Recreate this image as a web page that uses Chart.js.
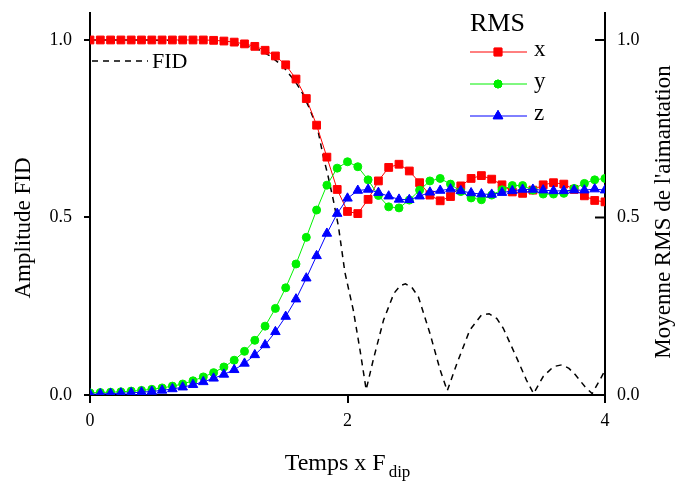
<!DOCTYPE html>
<html><head><meta charset="utf-8">
<script src="https://cdn.jsdelivr.net/npm/chart.js@4.4.1/dist/chart.umd.min.js"></script>
<style>html,body{margin:0;padding:0;background:#fff;}#wrap{width:675px;height:487px;position:relative;}</style>
</head><body><div id="wrap"><canvas id="c" width="675" height="487"></canvas></div>
<script>
const timeSteps = [0,0.08,0.16,0.24,0.32,0.40,0.48,0.56,0.64,0.72,0.80,0.88,0.96,1.04,1.12,1.20,1.28,1.36,1.44,1.52,1.60,1.68,1.76,1.84,1.92,2.00,2.08,2.16,2.24,2.32,2.40,2.48,2.56,2.64,2.72,2.80,2.88,2.96,3.04,3.12,3.20,3.28,3.36,3.44,3.52,3.60,3.68,3.76,3.84,3.92,4.00];
const rmsX = [1.0,1.0,1.0,1.0,1.0,1.0,1.0,1.0,1.0,1.0,1.0,1.0,0.999,0.997,0.994,0.989,0.982,0.971,0.955,0.930,0.890,0.835,0.760,0.670,0.579,0.517,0.511,0.551,0.603,0.641,0.650,0.631,0.598,0.563,0.547,0.559,0.589,0.610,0.618,0.608,0.592,0.572,0.568,0.577,0.592,0.598,0.594,0.579,0.561,0.548,0.544];
const rmsY = [0.006,0.007,0.008,0.009,0.011,0.013,0.016,0.020,0.025,0.031,0.040,0.051,0.063,0.079,0.098,0.123,0.154,0.194,0.244,0.302,0.369,0.444,0.521,0.591,0.639,0.657,0.643,0.606,0.562,0.530,0.527,0.549,0.577,0.603,0.610,0.594,0.573,0.555,0.550,0.563,0.578,0.590,0.590,0.577,0.566,0.566,0.568,0.582,0.596,0.606,0.610];
const rmsZ = [0.002,0.003,0.004,0.005,0.006,0.008,0.010,0.013,0.017,0.022,0.029,0.037,0.047,0.058,0.071,0.089,0.113,0.141,0.178,0.221,0.270,0.329,0.392,0.455,0.511,0.554,0.576,0.579,0.570,0.560,0.551,0.550,0.560,0.571,0.576,0.580,0.575,0.569,0.566,0.565,0.570,0.575,0.579,0.579,0.577,0.575,0.575,0.577,0.577,0.580,0.577];
const fidTime = [0,0.4,0.8,1.0,1.2,1.3,1.4,1.5,1.6,1.65,1.71,1.77,1.81,1.85,1.89,1.93,1.98,2.045,2.097,2.145,2.2,2.28,2.36,2.41,2.45,2.5,2.55,2.64,2.72,2.775,2.85,2.95,3.04,3.1,3.16,3.21,3.31,3.39,3.445,3.52,3.6,3.665,3.72,3.77,3.845,3.9,3.96,4.0];
const fidAmp = [1.0,1.0,0.998,0.995,0.985,0.975,0.955,0.925,0.88,0.85,0.803,0.746,0.675,0.615,0.549,0.474,0.345,0.239,0.127,0.015,0.099,0.211,0.286,0.308,0.313,0.303,0.277,0.174,0.070,0.012,0.089,0.183,0.225,0.229,0.215,0.188,0.108,0.042,0.004,0.052,0.080,0.085,0.075,0.057,0.023,0.004,0.042,0.07];
const xTicks = [0,2,4];
const yTicks = [0,0.5,1.0];
const seriesNames = ['x','y','z'];
const legendTitle = 'RMS';
const fidName = 'FID';
const xTitleMain = 'Temps x F';
const xTitleSub = 'dip';
const yLeftTitle = 'Amplitude FID';
const yRightTitle = "Moyenne RMS de l'aimantation";

const SERIF = "'Liberation Serif','Times New Roman',serif";
const pts = (xs, ys) => xs.map((t,i)=>({x:t,y:ys[i]}));

const styles = [
  {color:'#ff0000', style:'rect', r:5.5},
  {color:'#00f000', style:'circle', r:4},
  {color:'#0000ff', style:'triangle', r:5.5}
];

function drawMarker(ctx, st, x, y){
  if (Chart.helpers && Chart.helpers.drawPoint){
    ctx.fillStyle = st.color; ctx.strokeStyle = st.color; ctx.lineWidth = 1;
    Chart.helpers.drawPoint(ctx, {pointStyle:st.style, radius:st.r, borderWidth:1, rotation:0}, x, y);
    ctx.fill(); ctx.stroke();
  }
}

const decor = {
  id:'decor',
  afterDraw(chart){
    const ctx = chart.ctx;
    const ca = chart.chartArea;
    const yr = chart.scales.yR;
    ctx.save();
    ctx.strokeStyle = '#000'; ctx.lineWidth = 2;
    yr.ticks.forEach(t=>{
      const py = yr.getPixelForValue(t.value);
      ctx.beginPath(); ctx.moveTo(ca.right-10, py); ctx.lineTo(ca.right, py); ctx.stroke();
    });
    ctx.fillStyle = '#000';
    ctx.textBaseline = 'alphabetic';
    ctx.font = '24px ' + SERIF;
    const w1 = ctx.measureText(xTitleMain).width + 3;
    ctx.font = '17px ' + SERIF;
    const w2 = ctx.measureText(xTitleSub).width;
    const cx = (ca.left + ca.right)/2;
    let sx = cx - (w1 + w2)/2;
    ctx.font = '24px ' + SERIF;
    ctx.textAlign = 'left';
    ctx.fillText(xTitleMain, sx, 470);
    ctx.font = '17px ' + SERIF;
    ctx.fillText(xTitleSub, sx + w1, 477);
    ctx.font = '23px ' + SERIF;
    ctx.textAlign = 'center';
    ctx.save(); ctx.translate(30, 228); ctx.rotate(-Math.PI/2); ctx.fillText(yLeftTitle, 0, 0); ctx.restore();
    ctx.save(); ctx.translate(670, 212); ctx.rotate(-Math.PI/2); ctx.fillText(yRightTitle, 0, 0); ctx.restore();
    ctx.strokeStyle = '#000'; ctx.lineWidth = 1.5; ctx.setLineDash([6,5]);
    ctx.beginPath(); ctx.moveTo(92, 61); ctx.lineTo(148, 61); ctx.stroke();
    ctx.setLineDash([]);
    ctx.font = '22px ' + SERIF; ctx.textAlign = 'left'; ctx.textBaseline = 'middle';
    ctx.fillText(fidName, 152, 62);
    ctx.font = '26px ' + SERIF;
    ctx.fillText(legendTitle, 470, 24);
    const rows = [52, 84, 116];
    seriesNames.forEach((n,i)=>{
      const st = styles[i];
      ctx.strokeStyle = st.color; ctx.lineWidth = 1;
      ctx.beginPath(); ctx.moveTo(470, rows[i]); ctx.lineTo(527, rows[i]); ctx.stroke();
      drawMarker(ctx, st, 498, rows[i]);
      ctx.fillStyle = '#000';
      ctx.font = '23px ' + SERIF; ctx.textBaseline = 'middle'; ctx.textAlign = 'left';
      ctx.fillText(n, 534, rows[i] - 2);
    });
    ctx.restore();
  }
};

const order = [2,1,0];
const datasets = order.map(k=>({
  label: seriesNames[k],
  data: pts(timeSteps, [rmsX,rmsY,rmsZ][k]),
  borderColor: styles[k].color,
  backgroundColor: styles[k].color,
  borderWidth: 1,
  pointStyle: styles[k].style,
  pointRadius: styles[k].r,
  pointBorderWidth: 1,
  tension: 0,
  yAxisID: 'yR'
}));
datasets.push({
  label: fidName,
  data: pts(fidTime, fidAmp),
  borderColor: '#000',
  borderWidth: 1.5,
  borderDash: [6,5],
  pointRadius: 0,
  tension: 0,
  yAxisID: 'y'
});

function noPad(s){ s.paddingTop = 0; s.paddingBottom = 0; s.paddingLeft = 0; s.paddingRight = 0; }
const yMax = 1.076;
new Chart(document.getElementById('c'), {
  type: 'line',
  data: {datasets},
  options: {
    responsive: false,
    animation: false,
    layout: {padding: {top: 13, left: 0, right: 0, bottom: 0}},
    plugins: {legend: {display: false}, tooltip: {enabled: false}},
    scales: {
      x: {
        type: 'linear', min: 0, max: 4,
        afterFit(s){ s.height = 92; noPad(s); },
        afterBuildTicks(s){ s.ticks = xTicks.map(v=>({value:v})); },
        grid: {display: true, drawOnChartArea: false, drawTicks: true, tickLength: 8, color: '#000', lineWidth: 2},
        border: {display: true, color: '#000', width: 2},
        ticks: {color: '#000', font: {family: SERIF, size: 18}, padding: 7, maxRotation: 0, callback: v => String(v)}
      },
      y: {
        position: 'left', min: 0, max: yMax,
        afterFit(s){ s.width = 90; noPad(s); },
        afterBuildTicks(s){ s.ticks = yTicks.map(v=>({value:v})); },
        grid: {display: true, drawOnChartArea: false, drawTicks: true, tickLength: 6, color: '#000', lineWidth: 2},
        border: {display: true, color: '#000', width: 2},
        ticks: {color: '#000', font: {family: SERIF, size: 18}, padding: 12, callback: v => v.toFixed(1)}
      },
      yR: {
        position: 'right', min: 0, max: yMax,
        afterFit(s){ s.width = 70; noPad(s); },
        afterBuildTicks(s){ s.ticks = yTicks.map(v=>({value:v})); },
        grid: {display: false, drawOnChartArea: false, drawTicks: false},
        border: {display: true, color: '#000', width: 2},
        ticks: {color: '#000', font: {family: SERIF, size: 18}, padding: 12, callback: v => v.toFixed(1)}
      }
    }
  },
  plugins: [decor]
});
</script></body></html>
